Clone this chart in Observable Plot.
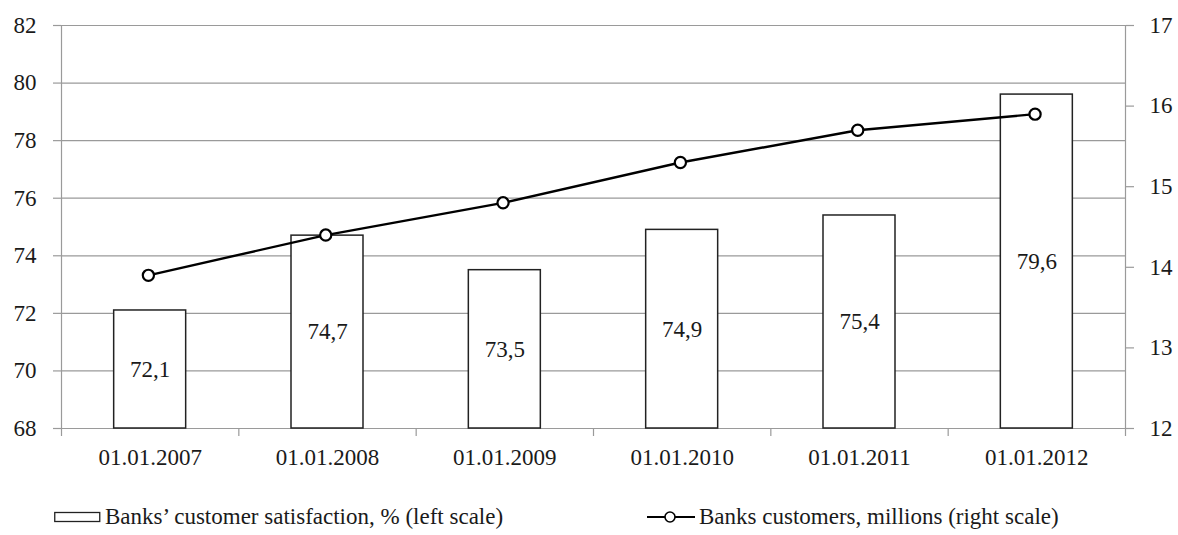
<!DOCTYPE html>
<html>
<head>
<meta charset="utf-8">
<script src="https://cdn.jsdelivr.net/npm/d3@7"></script>
<script src="https://cdn.jsdelivr.net/npm/@observablehq/plot@0.6"></script>
<style>
  html, body { margin: 0; padding: 0; background: #fff; }
  #wrap { position: relative; width: 1178px; height: 535px; font-family: "Liberation Serif", "Times New Roman", serif; color: #1a1a1a; }
  .leg { position: absolute; top: 503px; font-size: 23px; line-height: 28px; display: flex; align-items: center; white-space: nowrap; }
  .leg svg { margin-right: 4px; }
</style>
</head>
<body>
<div id="wrap"></div>
<script>
// ---- data ----
const dates = ["01.01.2007", "01.01.2008", "01.01.2009", "01.01.2010", "01.01.2011", "01.01.2012"];
const satisfaction = [72.1, 74.7, 73.5, 74.9, 75.4, 79.6];
const customers = [13.9, 14.4, 14.8, 15.3, 15.7, 15.9];
const leftTicks = [68, 70, 72, 74, 76, 78, 80, 82];
const rightTicks = [12, 13, 14, 15, 16, 17];
const seriesNames = ["Banks\u2019 customer satisfaction, % (left scale)", "Banks customers, millions (right scale)"];

// map right-scale values into left-scale units
const L0 = 68, L1 = 82, R0 = 12, R1 = 17;
const toLeft = v => L0 + (v - R0) * (L1 - L0) / (R1 - R0);
const fromLeft = v => R0 + (v - L0) * (R1 - R0) / (L1 - L0);

const rows = dates.map((d, i) => ({i, date: d, sat: satisfaction[i], cust: customers[i]}));
const fmt = v => v.toFixed(1).replace(".", ",");

const grey = "#9a9a9a";
const ink = "#1a1a1a";

const chart = Plot.plot({
  width: 1178,
  height: 490,
  marginLeft: 61,
  marginRight: 53,
  marginTop: 25,
  marginBottom: 62,
  style: {fontFamily: "'Liberation Serif', 'Times New Roman', serif", fontSize: "23px", color: ink, background: "#fff"},
  x: {type: "linear", domain: [0, dates.length], axis: null},
  y: {domain: [L0, L1], axis: null},
  marks: [
    Plot.gridY(leftTicks, {stroke: grey, strokeOpacity: 1, strokeWidth: 1.2}),
    Plot.ruleX([0, dates.length], {stroke: grey, strokeWidth: 1.2}),
    Plot.ruleY([L0], {stroke: grey, strokeWidth: 1.2}),
    Plot.axisY({anchor: "left", label: null, ticks: leftTicks, tickSize: 8, tickPadding: 17, stroke: grey, fill: ink, strokeWidth: 1.2}),
    Plot.axisY({anchor: "right", label: null, ticks: rightTicks.map(toLeft), tickFormat: d => String(Math.round(fromLeft(d))), tickSize: 8, tickPadding: 16, stroke: grey, fill: ink, strokeWidth: 1.2}),
    Plot.axisX({anchor: "bottom", label: null, ticks: d3.range(0, dates.length + 1), tickFormat: () => "", tickSize: 8, stroke: grey, strokeWidth: 1.2}),
    Plot.axisX({anchor: "bottom", label: null, ticks: dates.map((d, i) => i + 0.5), tickFormat: d => dates[Math.floor(d)], tickSize: 0, tickPadding: 20, fill: ink}),
    Plot.rect(rows, {x1: d => d.i + 0.297, x2: d => d.i + 0.703, y1: L0, y2: "sat", fill: "#fff", stroke: "#222", strokeWidth: 1.5}),
    Plot.text(rows, {x: d => d.i + 0.5, y: d => (L0 + d.sat) / 2, text: d => fmt(d.sat), fill: ink, fontSize: 23}),
    Plot.line(rows, {x: d => d.i + 0.49, y: d => toLeft(d.cust), stroke: "#000", strokeWidth: 2.4}),
    Plot.dot(rows, {x: d => d.i + 0.49, y: d => toLeft(d.cust), r: 5.6, fill: "#fff", stroke: "#000", strokeWidth: 2.2})
  ]
});

const wrap = document.getElementById("wrap");
wrap.appendChild(chart);

// legend
const l1 = document.createElement("div");
l1.className = "leg";
l1.style.left = "54px";
l1.innerHTML = `<svg width="47" height="12"><rect x="0.75" y="1.5" width="45" height="9" fill="#fff" stroke="#222" stroke-width="1.3"/></svg><span></span>`;
l1.querySelector("span").textContent = seriesNames[0];
wrap.appendChild(l1);

const l2 = document.createElement("div");
l2.className = "leg";
l2.style.left = "647px";
l2.innerHTML = `<svg width="48" height="16"><line x1="0" x2="48" y1="8" y2="8" stroke="#000" stroke-width="2"/><circle cx="23" cy="8" r="5" fill="#fff" stroke="#000" stroke-width="1.6"/></svg><span></span>`;
l2.querySelector("span").textContent = seriesNames[1];
wrap.appendChild(l2);
</script>
</body>
</html>
